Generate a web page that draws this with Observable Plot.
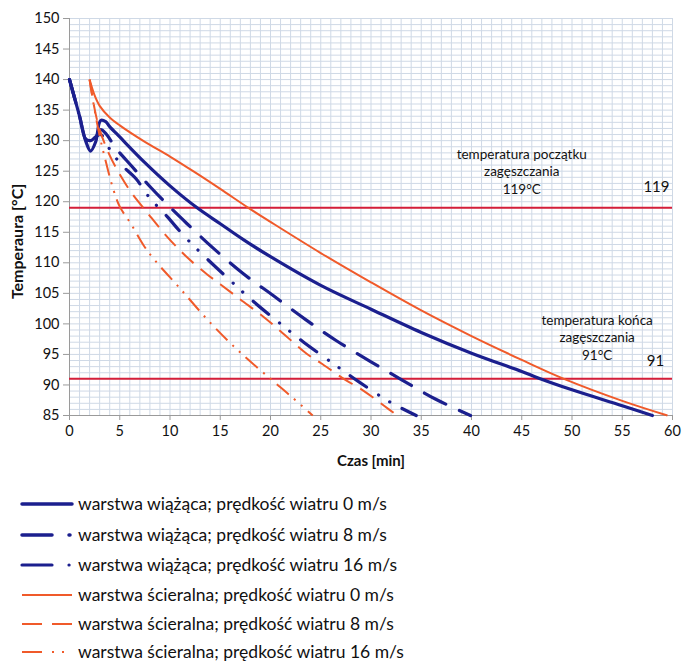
<!DOCTYPE html>
<html>
<head>
<meta charset="utf-8">
<script src="https://cdn.jsdelivr.net/npm/d3@7"></script>
<script src="https://cdn.jsdelivr.net/npm/@observablehq/plot@0.6"></script>
<style>
  html, body { margin: 0; padding: 0; background: #fff; }
  body { width: 683px; height: 666px; position: relative; overflow: hidden; font-family: Lato, "Open Sans", sans-serif; }
  #chart { position: absolute; left: 0; top: 0; }
  #legend { position: absolute; left: 0; top: 0; }
  .row { position: absolute; left: 0; height: 24px; white-space: nowrap; }
  .row svg { position: absolute; left: 0; top: 0; }
  .row span { position: absolute; left: 78px; top: 0px; font-size: 17.5px; line-height: 24px; color: #111; }
</style>
</head>
<body>
<div id="chart"></div>
<div id="legend"></div>
<script>
// ---- data ----
const seriesNames = [
  "warstwa wiążąca; prędkość wiatru 0 m/s",
  "warstwa wiążąca; prędkość wiatru 8 m/s",
  "warstwa wiążąca; prędkość wiatru 16 m/s",
  "warstwa ścieralna; prędkość wiatru 0 m/s",
  "warstwa ścieralna; prędkość wiatru 8 m/s",
  "warstwa ścieralna; prędkość wiatru 16 m/s"
];
const tBlue0 = [0,0.5,1,1.6,2.1,2.6,3.1,3.6,4,5,7.5,10,12.7,15,17.3,20,25,30,35,40,45,46.7,50,55,58];
const vBlue0 = [140,137,134,130,128.3,129.8,133.3,133.1,132.3,130.6,126.4,122.6,119,116.4,113.8,111,106.3,102.4,98.6,95.2,92.2,91.1,89.2,86.6,85];
const tBlue8 = [0,1,1.6,2.1,2.6,3.1,3.6,4.6,6.2,8,9.7,11.7,14.3,17.3,20.3,23.5,26.6,30,33.1,36.4,39.9];
const vBlue8 = [140,134,130.2,129.5,130.5,131.8,131.2,128.8,125.8,122.5,119.6,116.4,112.4,108.2,104.6,100.7,97.2,93.8,90.8,87.7,85];
const tBlue16 = [0,1,1.6,2.1,2.6,3.1,4,5.2,6.6,7.9,9.7,11.4,13.4,16.2,18.2,21,23.3,26.5,28.8,32,34.5];
const vBlue16 = [140,134,130.3,130,130.6,131,128.6,126,123.8,120.8,117.6,114.4,111.1,106.8,103.8,100,97,93.2,90.5,87.1,85];
const tOr0 = [2,2.5,3,4,5,7.5,10,12.5,15,17.8,20,25,30,35,40,45,49.2,55,59.5];
const vOr0 = [140,137.4,135.7,133.8,132.5,129.8,127.4,124.8,122.1,119,116.7,111.6,106.8,102.2,98,94.1,91,87.4,85];
const tOr8 = [2,2.5,3,4,5.1,6.2,7.7,9.7,11.7,13.7,15,17,19.2,21,23.6,25,27.1,29.3,31.3,32.6];
const vOr8 = [140,135.2,131.8,127.6,124.2,121.4,118.3,114.3,110.9,108.1,106.5,104,101.3,98.8,95.1,93.6,91.2,89,86.6,85];
const tOr16 = [2,2.5,3,3.5,4.4,5,6.1,7.4,8.4,11,14,17,20,22,24.2];
const vOr16 = [140,135,130.8,127.3,121.8,119.2,116.4,112.8,110.6,105.8,100.2,95.3,91,88.2,85];

const thresholds = [119, 91];
const thresholdLabels = ["119", "91"];
const noteStart = "temperatura początku\nzagęszczania\n119°C";
const noteEnd = "temperatura końca\nzagęszczania\n91°C";
const xTicks = d3.range(0, 61, 5);
const yTicks = d3.range(85, 151, 5);

// ---- styles ----
const BLUE = "#1b1f8e";
const ORANGE = "#f05a2a";
const RED = "#d51f3a";
const GRID = "#cfd9e6";

const pts = (ts, vs) => ts.map((t, i) => ({t, v: vs[i]}));
const series = [
  {data: pts(tBlue0, vBlue0), stroke: BLUE, width: 3.2, dash: null, cap: "round"},
  {data: pts(tBlue8, vBlue8), stroke: BLUE, width: 3.2, dash: "24,15", cap: "round"},
  {data: pts(tBlue16, vBlue16), stroke: BLUE, width: 3.2, dash: "20,14,0.1,13,0.1,14", cap: "round"},
  {data: pts(tOr0, vOr0), stroke: ORANGE, width: 2, dash: null, cap: "butt"},
  {data: pts(tOr8, vOr8), stroke: ORANGE, width: 2, dash: "16,9", cap: "butt"},
  {data: pts(tOr16, vOr16), stroke: ORANGE, width: 2, dash: "16,7,2,7,2,7", cap: "butt"}
];

const chart = Plot.plot({
  width: 683,
  height: 480,
  marginLeft: 69,
  marginRight: 11,
  marginTop: 18,
  marginBottom: 65,
  style: {fontFamily: "Lato, 'Open Sans', sans-serif", background: "#fff"},
  x: {domain: [0, 60], axis: null},
  y: {domain: [85, 150], axis: null},
  marks: [
    Plot.ruleX(d3.range(0, 61), {stroke: GRID, strokeWidth: 1}),
    Plot.ruleY(d3.range(85, 151), {stroke: GRID, strokeWidth: 1}),
    Plot.ruleX([0], {stroke: "#9a9a9a", strokeWidth: 1}),
    Plot.ruleY([85], {stroke: "#9a9a9a", strokeWidth: 1}),
    Plot.axisX({ticks: xTicks, tickSize: 5, tickPadding: 5, fontSize: 14.5, stroke: "#9a9a9a", fill: "#111", label: null, tickFormat: d => d}),
    Plot.axisY({ticks: yTicks, tickSize: 6, tickPadding: 4, fontSize: 14.5, stroke: "#9a9a9a", fill: "#111", label: null, tickFormat: d => d}),
    Plot.ruleY(thresholds, {stroke: RED, strokeWidth: 2}),
    ...series.map(s => Plot.line(s.data, {
      x: "t", y: "v", stroke: s.stroke, strokeWidth: s.width,
      strokeDasharray: s.dash, strokeLinecap: s.cap, curve: "catmull-rom"
    })),
    Plot.text([noteStart], {x: 45, y: 125.1, text: d => d, fontSize: 13.5, lineHeight: 1.3, fill: "#111", textAnchor: "middle"}),
    Plot.text([noteEnd], {x: 52.5, y: 97.9, text: d => d, fontSize: 13.5, lineHeight: 1.3, fill: "#111", textAnchor: "middle"}),
    Plot.text([thresholdLabels[0]], {x: 59.7, y: 122.3, text: d => d, fontSize: 15, fill: "#111", textAnchor: "end"}),
    Plot.text([thresholdLabels[1]], {x: 58.3, y: 93.9, text: d => d, fontSize: 15, fill: "#111", textAnchor: "middle"}),
    Plot.text(["Czas [min]"], {frameAnchor: "bottom", dy: 50, fontSize: 15, fontWeight: "bold", fill: "#111"}),
    Plot.text(["Temperaura [°C]"], {x: [-5.1], y: [113.5], text: d => d, rotate: -90, fontSize: 16, fontWeight: "bold", fill: "#111"})
  ]
});
document.getElementById("chart").append(chart);

// ---- legend ----
const legendRows = [
  {y: 504, stroke: BLUE, w: 3.5, dash: null, cap: "round"},
  {y: 535, stroke: BLUE, w: 3.5, dash: "30,17,1,60", cap: "round"},
  {y: 565, stroke: BLUE, w: 3.2, dash: "30,17,0.1,60", cap: "round"},
  {y: 595, stroke: ORANGE, w: 2.2, dash: null, cap: "butt"},
  {y: 624, stroke: ORANGE, w: 2.2, dash: "20,10,20,60", cap: "butt"},
  {y: 652, stroke: ORANGE, w: 2.2, dash: "20,10,2,8,2,60", cap: "butt"}
];
const legend = d3.select("#legend");
legendRows.forEach((r, i) => {
  const row = legend.append("div").attr("class", "row").style("top", (r.y - 12) + "px").style("width", "683px");
  const svg = row.append("svg").attr("width", 80).attr("height", 24);
  svg.append("line").attr("x1", 22).attr("x2", 72).attr("y1", 12).attr("y2", 12)
    .attr("stroke", r.stroke).attr("stroke-width", r.w)
    .attr("stroke-dasharray", r.dash).attr("stroke-linecap", r.cap);
  row.append("span").text(seriesNames[i]);
});
</script>
</body>
</html>
